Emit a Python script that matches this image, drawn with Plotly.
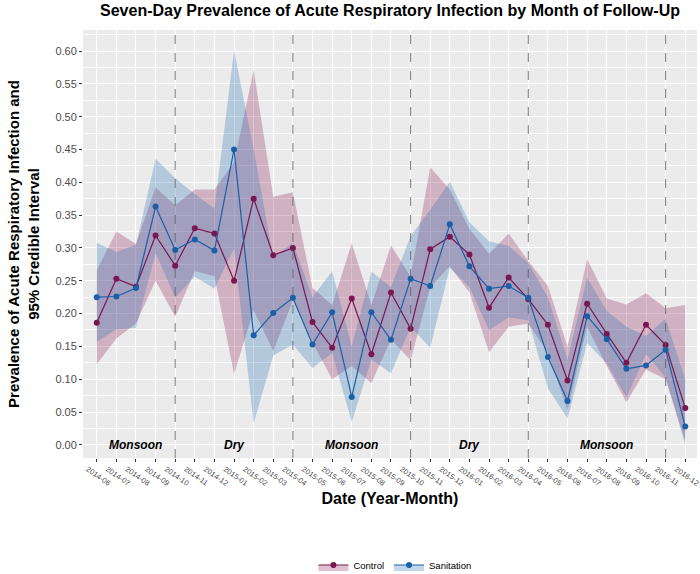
import plotly.graph_objects as go

months = ["2014-06","2014-07","2014-08","2014-09","2014-10","2014-11","2014-12",
          "2015-01","2015-02","2015-03","2015-04","2015-05","2015-06","2015-07","2015-08",
          "2015-09","2015-10","2015-11","2015-12","2016-01","2016-02","2016-03","2016-04",
          "2016-05","2016-06","2016-07","2016-08","2016-09","2016-10","2016-11","2016-12"]

control = [0.186,0.253,0.241,0.319,0.273,0.330,0.322,
           0.250,0.375,0.289,0.300,0.187,0.148,0.223,0.138,0.232,0.177,0.298,0.317,
           0.290,0.209,0.255,0.222,0.183,0.098,0.215,0.169,0.125,0.183,0.152,0.056]
control_upper = [0.266,0.325,0.306,0.392,0.365,0.389,0.389,
                 0.430,0.571,0.378,0.385,0.239,0.213,0.307,0.213,0.304,0.256,0.423,0.389,
                 0.329,0.291,0.322,0.280,0.242,0.150,0.283,0.223,0.214,0.231,0.208,0.213]
control_lower = [0.123,0.162,0.185,0.250,0.195,0.265,0.257,
                 0.108,0.205,0.143,0.220,0.156,0.100,0.120,0.094,0.161,0.129,0.240,0.272,
                 0.232,0.141,0.180,0.185,0.140,0.053,0.180,0.120,0.065,0.115,0.100,0.006]

sanitation = [0.225,0.226,0.239,0.363,0.297,0.313,0.296,
              0.450,0.167,0.201,0.224,0.153,0.202,0.073,0.202,0.160,0.253,0.242,0.336,
              0.272,0.238,0.242,0.224,0.134,0.067,0.196,0.161,0.116,0.121,0.145,0.028]
sanitation_upper = [0.308,0.294,0.305,0.436,0.406,0.382,0.360,
                    0.601,0.450,0.285,0.308,0.225,0.265,0.150,0.264,0.240,0.318,0.358,0.401,
                    0.339,0.310,0.303,0.277,0.225,0.130,0.255,0.204,0.180,0.166,0.192,0.100]
sanitation_lower = [0.157,0.176,0.178,0.292,0.225,0.256,0.238,
                    0.299,0.033,0.136,0.153,0.117,0.140,0.035,0.130,0.109,0.180,0.148,0.270,
                    0.240,0.175,0.194,0.190,0.086,0.040,0.155,0.124,0.072,0.138,0.103,0.000]

season_boundaries = ["2014-10","2015-04","2015-10","2016-04","2016-11"]
season_labels = ["Monsoon","Dry","Monsoon","Dry","Monsoon"]
season_centers = [2, 7, 13, 19, 26]
y_ticks = [0.00,0.05,0.10,0.15,0.20,0.25,0.30,0.35,0.40,0.45,0.50,0.55,0.60]

c_col = "#7A1650"
s_col = "#1A5FA8"
c_fill = "rgba(140,30,90,0.28)"
s_fill = "rgba(40,110,180,0.28)"

x = list(range(len(months)))
fig = go.Figure()

def band(lo, hi, fill):
    fig.add_trace(go.Scatter(x=x + x[::-1], y=hi + lo[::-1], fill="toself",
                             fillcolor=fill, line=dict(width=0), mode="lines",
                             hoverinfo="skip", showlegend=False))

band(control_lower, control_upper, c_fill)
band(sanitation_lower, sanitation_upper, s_fill)

fig.add_trace(go.Scatter(x=x, y=control, mode="lines+markers", name="Control",
                         line=dict(color=c_col, width=1.2), marker=dict(color=c_col, size=6),
                         showlegend=False))
fig.add_trace(go.Scatter(x=x, y=sanitation, mode="lines+markers", name="Sanitation",
                         line=dict(color=s_col, width=1.2), marker=dict(color=s_col, size=6),
                         showlegend=False))

# legend keys
for name, col, fill in [("Control", c_col, c_fill), ("Sanitation", s_col, s_fill)]:
    fig.add_trace(go.Scatter(x=[None], y=[None], mode="lines+markers", name=name,
                             fill="toself", fillcolor=fill,
                             line=dict(color=col, width=1.2), marker=dict(color=col, size=6)))

for b in season_boundaries:
    i = months.index(b)
    fig.add_shape(type="line", x0=i, x1=i, y0=0, y1=1, xref="x", yref="paper",
                  line=dict(color="#5a5a5a", width=0.8, dash="dash"))

for lab, cx in zip(season_labels, season_centers):
    fig.add_annotation(x=cx, y=0.0, text="<b><i>%s</i></b>" % lab, showarrow=False,
                       font=dict(size=12, color="black", family="Liberation Sans"))

font_fam = "Liberation Sans, Arial, sans-serif"
fig.update_layout(
    width=700, height=574,
    margin=dict(l=83, r=3, t=30, b=116, autoexpand=False),
    paper_bgcolor="white", plot_bgcolor="#EBEBEB",
    font=dict(family=font_fam),
    title=dict(text="<b>Seven-Day Prevalence of Acute Respiratory Infection by Month of Follow-Up</b>",
               x=(83 + 697) / 2 / 700, xanchor="center", y=0.982, yanchor="middle",
               font=dict(size=16, color="black")),
    legend=dict(orientation="h", x=(83 + 697) / 2 / 614 - 83 / 614 + 0.008, xanchor="center",
                y=-0.25, yanchor="middle", font=dict(size=9.5, color="black"),
                itemwidth=30),
    showlegend=True,
)
fig.update_xaxes(range=[-0.7, 30.6], tickvals=x, ticktext=months, tickangle=35,
                 tickfont=dict(size=7.5, color="#4D4D4D"), showgrid=True, gridcolor="white",
                 gridwidth=1.1, ticks="outside", ticklen=3, tickcolor="#333333", zeroline=False,
                 automargin=False, ticklabelshift=-9, ticklabeloverflow="allow",
                 title=dict(text="<b>Date (Year-Month)</b>", font=dict(size=16, color="black"),
                            standoff=6))
fig.update_yaxes(range=[-0.02, 0.632], tickvals=y_ticks, ticktext=["%.2f" % v for v in y_ticks],
                 tickfont=dict(size=11, color="#4D4D4D"), showgrid=True, gridcolor="white",
                 gridwidth=1.1, ticks="outside", ticklen=3, tickcolor="#333333", zeroline=False,
                 automargin=False,
                 minor=dict(dtick=0.025, tick0=0.0, showgrid=True, gridcolor="white", gridwidth=0.5),
                 title=dict(text="<b>Prevalence of Acute Respiratory Infection and<br>95% Credible Interval</b>",
                            font=dict(size=15, color="black"), standoff=12))

fig.write_html("out.html", post_script="document.body.style.margin='0';",
               config={"displayModeBar": False})
